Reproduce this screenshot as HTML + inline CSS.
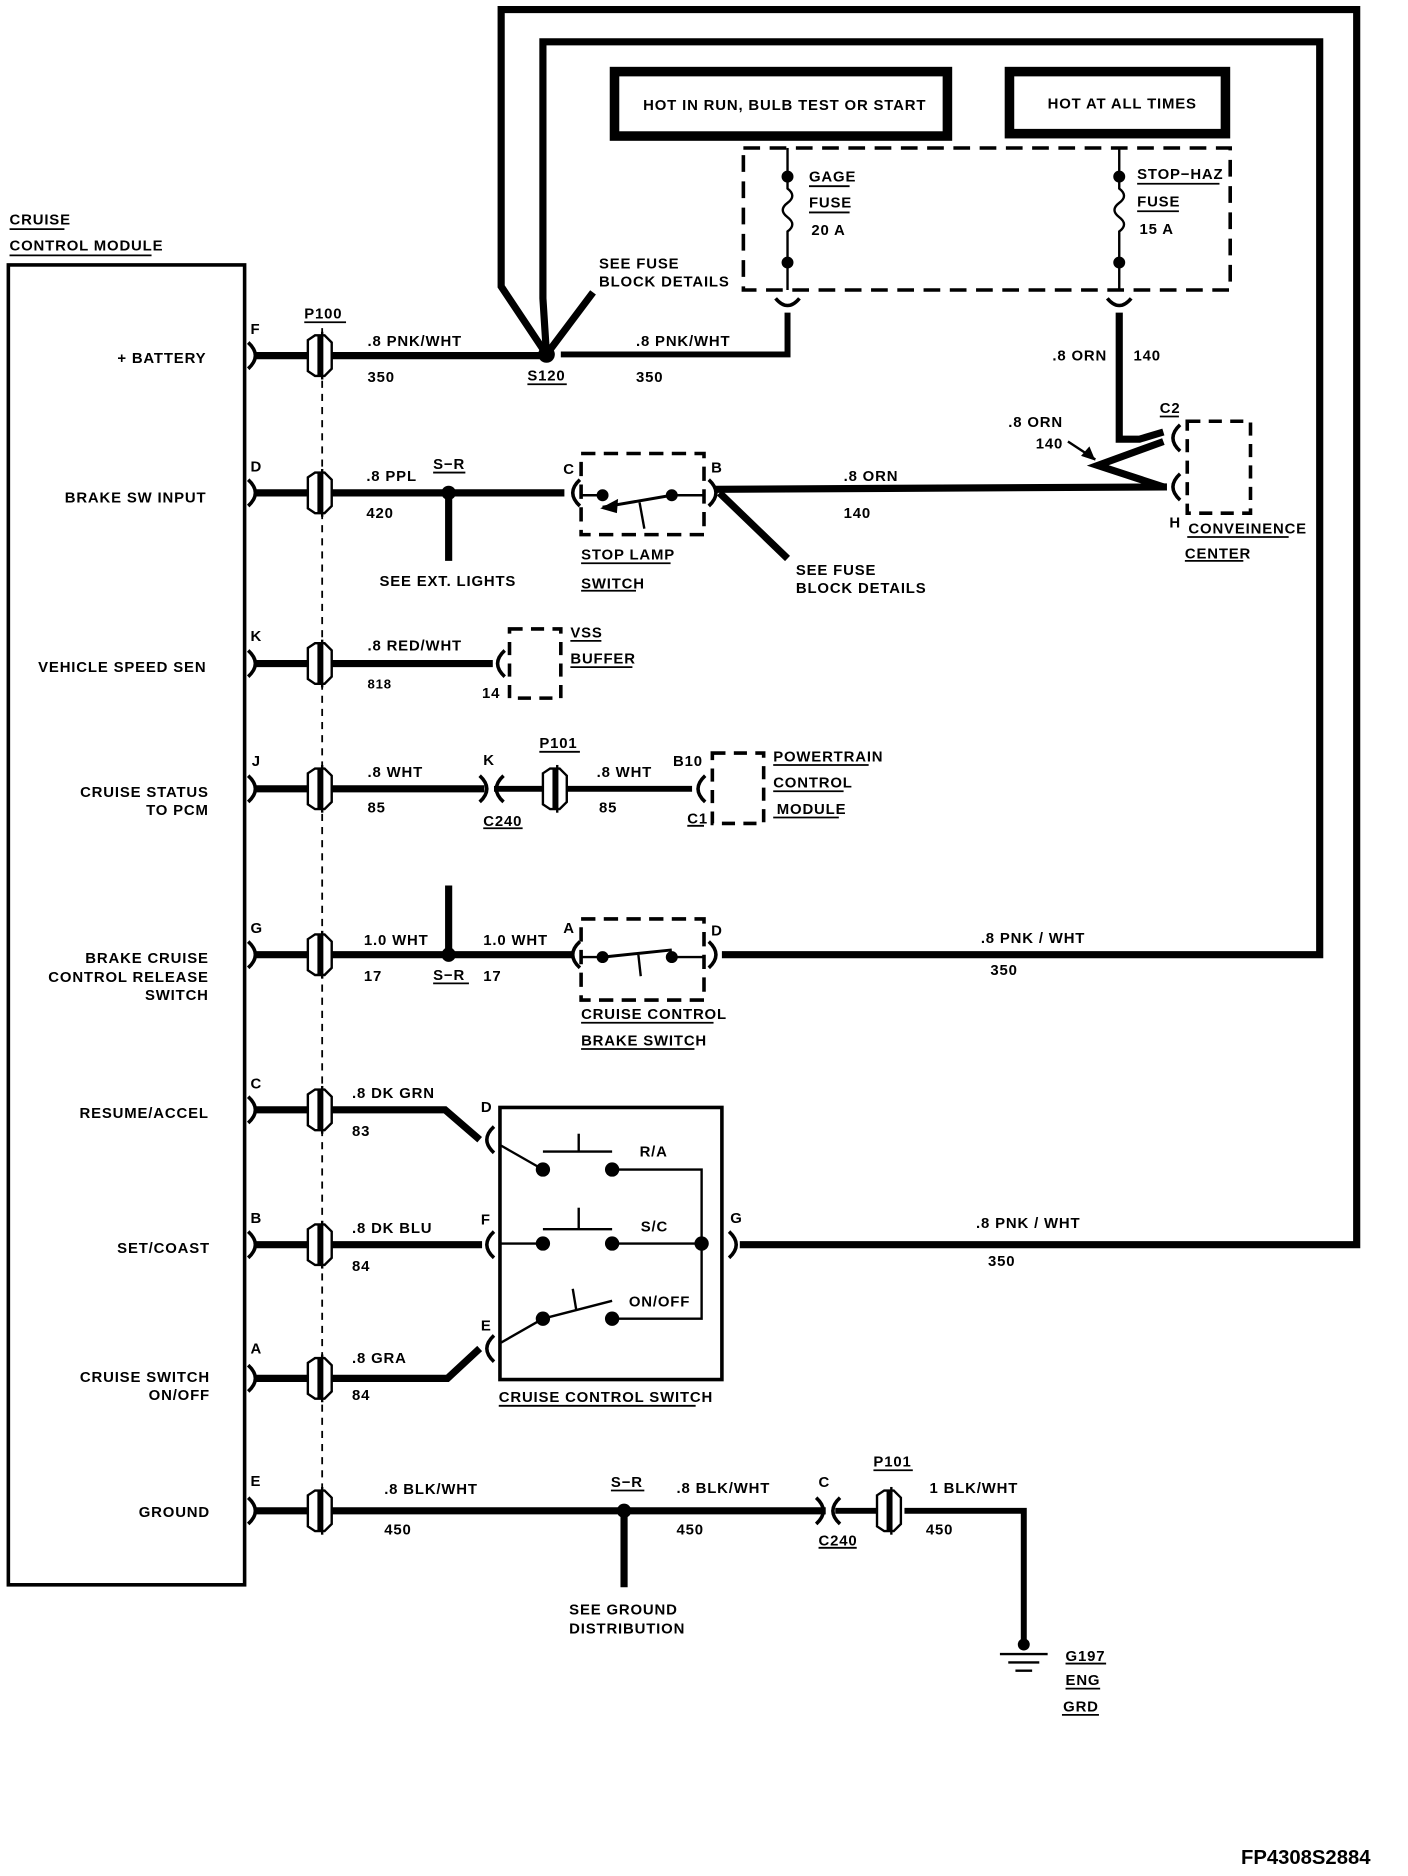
<!DOCTYPE html>
<html><head><meta charset="utf-8"><style>
html,body{margin:0;padding:0;background:#fff;}
svg{display:block}
text{font-family:"Liberation Sans",sans-serif;font-weight:bold;font-size:12.5px;fill:#000;letter-spacing:0.7px}
</style></head><body>
<svg width="1408" height="1876" viewBox="0 0 1180 1572" preserveAspectRatio="none" xmlns="http://www.w3.org/2000/svg">
<defs>
<g id="ic"><path d="M-10,-13 L-4,-17 L-1,-17 L-1,17 L-4,17 L-10,13 Z M1,-17 L4,-17 L10,-11 L10,11 L4,17 L1,17 Z" fill="#fff" stroke="#000" stroke-width="2"/><line x1="2" y1="-20" x2="2" y2="20" stroke="#000" stroke-width="2"/></g>
<path id="ar" d="M-4,-11 Q8,0 -4,11" fill="none" stroke="#000" stroke-width="3"/>
<path id="al" d="M4,-11 Q-8,0 4,11" fill="none" stroke="#000" stroke-width="3"/>
</defs>
<g fill="none" stroke="#000" stroke-linejoin="miter">
<polyline points="458,297 420,240 420,8 1137,8 1137,1043 620,1043" stroke-width="6"/>
<polyline points="458,297 455,250 455,35 1106,35 1106,800 605,800" stroke-width="6"/>
<line x1="458" y1="297" x2="497" y2="245" stroke-width="6"/>
<rect x="515" y="60" width="279" height="54" stroke-width="8"/>
<rect x="846" y="60" width="181" height="52" stroke-width="8"/>
<rect x="623" y="124" width="408" height="119" stroke-width="3" stroke-dasharray="14,8"/>
<line x1="660" y1="124" x2="660" y2="148" stroke-width="2"/>
<path d="M660,148 L660,158 Q668,164 660,170 Q652,176 660,182 Q668,188 660,194 L660,243" stroke-width="2"/>
<line x1="938" y1="124" x2="938" y2="148" stroke-width="2"/>
<path d="M938,148 L938,158 Q946,164 938,170 Q930,176 938,182 Q946,188 938,194 L938,243" stroke-width="2"/>
<path d="M650,250 Q660,262 670,250" stroke-width="3"/>
<path d="M928,250 Q938,262 948,250" stroke-width="3"/>
<polyline points="470,297 660,297 660,262" stroke-width="5"/>
<polyline points="938,262 938,368 955,368 975,362" stroke-width="6"/>
<polyline points="975,370 920,390 975,408" stroke-width="6"/>
<rect x="7" y="222" width="198" height="1106" stroke-width="3"/>
<line x1="270" y1="275" x2="270" y2="1268" stroke-width="1.5" stroke-dasharray="6,5"/>
<line x1="214" y1="298" x2="458" y2="298" stroke-width="6"/>
<line x1="214" y1="413" x2="473" y2="413" stroke-width="6"/>
<line x1="376" y1="413" x2="376" y2="470" stroke-width="6"/>
<line x1="600" y1="410" x2="978" y2="408" stroke-width="6"/>
<line x1="603" y1="413" x2="660" y2="468" stroke-width="6"/>
<rect x="487" y="380" width="103" height="68" stroke-width="3" stroke-dasharray="12,7"/>
<line x1="487" y1="415" x2="505" y2="415" stroke-width="2"/>
<line x1="563" y1="415" x2="590" y2="415" stroke-width="2"/>
<line x1="563" y1="415" x2="505" y2="425" stroke-width="2.5"/>
<line x1="536" y1="421" x2="540" y2="443" stroke-width="2"/>
<line x1="214" y1="556" x2="413" y2="556" stroke-width="6"/>
<rect x="427" y="527" width="43" height="58" stroke-width="3" stroke-dasharray="11,7"/>
<line x1="214" y1="661" x2="406" y2="661" stroke-width="6"/>
<line x1="414" y1="661" x2="580" y2="661" stroke-width="5"/>
<rect x="597" y="631" width="43" height="59" stroke-width="3" stroke-dasharray="11,7"/>
<line x1="214" y1="800" x2="480" y2="800" stroke-width="6"/>
<line x1="376" y1="742" x2="376" y2="800" stroke-width="6"/>
<rect x="487" y="770" width="103" height="68" stroke-width="3" stroke-dasharray="12,7"/>
<line x1="487" y1="802" x2="505" y2="802" stroke-width="2"/>
<line x1="563" y1="802" x2="590" y2="802" stroke-width="2"/>
<line x1="505" y1="802" x2="563" y2="796" stroke-width="2.5"/>
<line x1="535" y1="800" x2="537" y2="818" stroke-width="2"/>
<polyline points="214,930 373,930 402,955" stroke-width="6"/>
<line x1="214" y1="1043" x2="404" y2="1043" stroke-width="6"/>
<polyline points="214,1155 375,1155 402,1130" stroke-width="6"/>
<rect x="419" y="928" width="186" height="228" stroke-width="3"/>
<line x1="420" y1="960" x2="455" y2="980" stroke-width="2"/>
<line x1="455" y1="965" x2="513" y2="965" stroke-width="2"/>
<line x1="485" y1="950" x2="485" y2="965" stroke-width="2"/>
<line x1="420" y1="1042" x2="455" y2="1042" stroke-width="2"/>
<line x1="455" y1="1030" x2="513" y2="1030" stroke-width="2"/>
<line x1="485" y1="1012" x2="485" y2="1030" stroke-width="2"/>
<line x1="420" y1="1125" x2="455" y2="1105" stroke-width="2"/>
<line x1="455" y1="1105" x2="513" y2="1090" stroke-width="2"/>
<line x1="480" y1="1080" x2="483" y2="1098" stroke-width="2"/>
<polyline points="513,980 588,980 588,1105 513,1105" stroke-width="2"/>
<line x1="513" y1="1042" x2="588" y2="1042" stroke-width="2"/>
<line x1="214" y1="1266" x2="692" y2="1266" stroke-width="6"/>
<line x1="523" y1="1266" x2="523" y2="1330" stroke-width="6"/>
<polyline points="758,1266 858,1266 858,1378" stroke-width="5"/>
<line x1="838" y1="1386" x2="878" y2="1386" stroke-width="2"/>
<line x1="845" y1="1393" x2="871" y2="1393" stroke-width="2"/>
<line x1="851" y1="1400" x2="865" y2="1400" stroke-width="2"/>
<rect x="995" y="353" width="53" height="77" stroke-width="3" stroke-dasharray="11,7"/>
<line x1="895" y1="370" x2="918" y2="385" stroke-width="2"/>
<line x1="740" y1="1266" x2="700" y2="1266" stroke-width="5"/>
</g>
<g fill="#000">
<circle cx="458" cy="297" r="7"/>
<circle cx="376" cy="413" r="6"/><circle cx="376" cy="800" r="6"/><circle cx="523" cy="1266" r="6"/>
<circle cx="660" cy="148" r="5"/><circle cx="660" cy="220" r="5"/><circle cx="938" cy="148" r="5"/><circle cx="938" cy="220" r="5"/>
<circle cx="505" cy="415" r="5"/><circle cx="563" cy="415" r="5"/><circle cx="505" cy="802" r="5"/><circle cx="563" cy="802" r="5"/>
<circle cx="455" cy="980" r="6"/><circle cx="513" cy="980" r="6"/><circle cx="455" cy="1042" r="6"/><circle cx="513" cy="1042" r="6"/><circle cx="588" cy="1042" r="6"/>
<circle cx="455" cy="1105" r="6"/><circle cx="513" cy="1105" r="6"/><circle cx="858" cy="1378" r="5"/>
<path d="M918,386 L906,382 L913,374 Z"/>
<path d="M503,426 L518,418 L517,430 Z"/>
</g>
<use href="#ar" x="212" y="298"/><use href="#ar" x="212" y="413"/><use href="#ar" x="212" y="556"/><use href="#ar" x="212" y="661"/><use href="#ar" x="212" y="800"/><use href="#ar" x="212" y="930"/><use href="#ar" x="212" y="1043"/><use href="#ar" x="212" y="1155"/><use href="#ar" x="212" y="1266"/>
<use href="#ic" x="268" y="298"/><use href="#ic" x="268" y="413"/><use href="#ic" x="268" y="556"/><use href="#ic" x="268" y="661"/><use href="#ic" x="268" y="800"/><use href="#ic" x="268" y="930"/><use href="#ic" x="268" y="1043"/><use href="#ic" x="268" y="1155"/><use href="#ic" x="268" y="1266"/>
<use href="#al" x="482" y="413"/><use href="#ar" x="598" y="413"/><use href="#al" x="419" y="556"/>
<use href="#ar" x="406" y="661"/><use href="#al" x="418" y="661"/><use href="#ic" x="465" y="661"/><use href="#al" x="587" y="661"/>
<use href="#al" x="482" y="800"/><use href="#ar" x="598" y="800"/>
<use href="#al" x="410" y="955"/><use href="#al" x="410" y="1043"/><use href="#al" x="410" y="1130"/><use href="#ar" x="615" y="1043"/>
<use href="#ar" x="688" y="1266"/><use href="#al" x="700" y="1266"/><use href="#ic" x="745" y="1266"/>
<use href="#al" x="985" y="367"/><use href="#al" x="985" y="408"/>
<text x="539" y="92">HOT IN RUN, BULB TEST OR START</text>
<text x="878" y="91">HOT AT ALL TIMES</text>
<text x="678" y="152">GAGE</text><text x="678" y="174">FUSE</text><text x="680" y="197">20 A</text>
<text x="953" y="150">STOP−HAZ</text><text x="953" y="173">FUSE</text><text x="955" y="196">15 A</text>
<text x="502" y="225">SEE FUSE</text><text x="502" y="240">BLOCK DETAILS</text>
<text x="8" y="188">CRUISE</text><text x="8" y="210">CONTROL MODULE</text>
<g stroke="#000" stroke-width="1.5">
<line x1="8" y1="192" x2="54" y2="192"/><line x1="8" y1="214" x2="127" y2="214"/>
<line x1="678" y1="156" x2="712" y2="156"/><line x1="678" y1="178" x2="712" y2="178"/>
<line x1="953" y1="154" x2="1022" y2="154"/><line x1="953" y1="177" x2="988" y2="177"/>
<line x1="255" y1="270" x2="290" y2="270"/><line x1="442" y1="322" x2="475" y2="322"/>
<line x1="363" y1="396" x2="390" y2="396"/><line x1="487" y1="472" x2="562" y2="472"/><line x1="487" y1="495" x2="533" y2="495"/>
<line x1="478" y1="537" x2="504" y2="537"/><line x1="478" y1="559" x2="530" y2="559"/>
<line x1="452" y1="630" x2="486" y2="630"/><line x1="405" y1="694" x2="438" y2="694"/><line x1="576" y1="692" x2="590" y2="692"/>
<line x1="648" y1="641" x2="728" y2="641"/><line x1="648" y1="663" x2="707" y2="663"/><line x1="648" y1="685" x2="703" y2="685"/>
<line x1="972" y1="349" x2="988" y2="349"/><line x1="995" y1="450" x2="1080" y2="450"/><line x1="993" y1="470" x2="1042" y2="470"/>
<line x1="363" y1="824" x2="393" y2="824"/>
<line x1="487" y1="857" x2="598" y2="857"/><line x1="487" y1="879" x2="582" y2="879"/>
<line x1="418" y1="1178" x2="583" y2="1178"/>
<line x1="512" y1="1249" x2="540" y2="1249"/><line x1="686" y1="1297" x2="718" y2="1297"/><line x1="732" y1="1232" x2="765" y2="1232"/>
<line x1="893" y1="1394" x2="927" y2="1394"/><line x1="893" y1="1415" x2="922" y2="1415"/><line x1="890" y1="1437" x2="921" y2="1437"/>
</g>
<g text-anchor="end">
<text x="173" y="304">+ BATTERY</text>
<text x="173" y="421">BRAKE SW INPUT</text>
<text x="173" y="563">VEHICLE SPEED SEN</text>
<text x="175" y="668">CRUISE STATUS</text><text x="175" y="683">TO PCM</text>
<text x="175" y="807">BRAKE CRUISE</text><text x="175" y="823">CONTROL RELEASE</text><text x="175" y="838">SWITCH</text>
<text x="175" y="937">RESUME/ACCEL</text>
<text x="176" y="1050">SET/COAST</text>
<text x="176" y="1158">CRUISE SWITCH</text><text x="176" y="1173">ON/OFF</text>
<text x="176" y="1271">GROUND</text>
</g>
<text x="210" y="280">F</text><text x="210" y="395">D</text><text x="210" y="537">K</text><text x="211" y="642">J</text><text x="210" y="782">G</text><text x="210" y="912">C</text><text x="210" y="1025">B</text><text x="210" y="1134">A</text><text x="210" y="1245">E</text>
<text x="255" y="267">P100</text>
<text x="308" y="290">.8 PNK/WHT</text><text x="308" y="320">350</text><text x="442" y="319">S120</text>
<text x="533" y="290">.8 PNK/WHT</text><text x="533" y="320">350</text>
<text x="882" y="302">.8 ORN</text><text x="950" y="302">140</text>
<text x="845" y="358">.8 ORN</text><text x="868" y="376">140</text>
<text x="972" y="346">C2</text><text x="980" y="442">H</text>
<text x="996" y="447">CONVEINENCE</text><text x="993" y="468">CENTER</text>
<text x="307" y="403">.8 PPL</text><text x="307" y="434">420</text><text x="363" y="393">S−R</text>
<text x="318" y="491">SEE EXT. LIGHTS</text>
<text x="472" y="397">C</text><text x="596" y="396">B</text>
<text x="707" y="403">.8 ORN</text><text x="707" y="434">140</text>
<text x="487" y="469">STOP LAMP</text><text x="487" y="493">SWITCH</text>
<text x="667" y="482">SEE FUSE</text><text x="667" y="497">BLOCK DETAILS</text>
<text x="308" y="545">.8 RED/WHT</text><text x="308" y="577" style="font-size:11px">818</text><text x="404" y="585">14</text>
<text x="478" y="534">VSS</text><text x="478" y="556">BUFFER</text>
<text x="308" y="651">.8 WHT</text><text x="308" y="681">85</text><text x="405" y="641">K</text><text x="405" y="692">C240</text>
<text x="452" y="627">P101</text><text x="500" y="651">.8 WHT</text><text x="502" y="681">85</text>
<text x="564" y="642">B10</text><text x="576" y="690">C1</text>
<text x="648" y="638">POWERTRAIN</text><text x="648" y="660">CONTROL</text><text x="651" y="682">MODULE</text>
<text x="305" y="792">1.0 WHT</text><text x="305" y="822">17</text><text x="363" y="821">S−R</text>
<text x="405" y="792">1.0 WHT</text><text x="405" y="822">17</text>
<text x="472" y="782">A</text><text x="596" y="784">D</text>
<text x="822" y="790">.8 PNK / WHT</text><text x="830" y="817">350</text>
<text x="487" y="854">CRUISE CONTROL</text><text x="487" y="876">BRAKE SWITCH</text>
<text x="295" y="920">.8 DK GRN</text><text x="295" y="952">83</text><text x="403" y="932">D</text>
<text x="295" y="1033">.8 DK BLU</text><text x="295" y="1065">84</text><text x="403" y="1026">F</text>
<text x="295" y="1142">.8 GRA</text><text x="295" y="1173">84</text><text x="403" y="1115">E</text>
<text x="536" y="969">R/A</text><text x="537" y="1032">S/C</text><text x="527" y="1095">ON/OFF</text>
<text x="612" y="1025">G</text>
<text x="818" y="1029">.8 PNK / WHT</text><text x="828" y="1061">350</text>
<text x="418" y="1175">CRUISE CONTROL SWITCH</text>
<text x="322" y="1252">.8 BLK/WHT</text><text x="322" y="1286">450</text>
<text x="512" y="1246">S−R</text>
<text x="567" y="1251">.8 BLK/WHT</text><text x="567" y="1286">450</text>
<text x="686" y="1246">C</text><text x="686" y="1295">C240</text>
<text x="732" y="1229">P101</text><text x="779" y="1251">1 BLK/WHT</text><text x="776" y="1286">450</text>
<text x="477" y="1353">SEE GROUND</text><text x="477" y="1369">DISTRIBUTION</text>
<text x="893" y="1392">G197</text><text x="893" y="1412">ENG</text><text x="891" y="1434">GRD</text>
<text x="1040" y="1562" style="font-size:17px;font-weight:900;letter-spacing:0">FP4308S2884</text>
</svg>
</body></html>
